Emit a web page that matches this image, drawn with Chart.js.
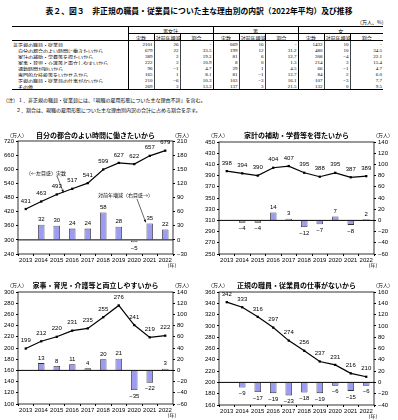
<!DOCTYPE html>
<html lang="ja">
<head>
<meta charset="utf-8">
<script src="https://cdn.jsdelivr.net/npm/chart.js@4.4.0/dist/chart.umd.min.js"></script>
<style>
body { margin:0; width:398px; height:420px; background:#fff; position:relative; overflow:hidden; font-family:"Noto Sans CJK JP", sans-serif; color:#000; }
#title { position:absolute; top:5px; left:0; width:398px; text-align:center; font-size:7.8px; font-weight:bold; line-height:12px; }
#unit { position:absolute; top:19px; left:357px; font-size:5px; line-height:6px; }
#tbl { position:absolute; left:12px; top:26px; width:371px; border-collapse:collapse; table-layout:fixed; font-size:5px; font-family:"Noto Sans CJK JP", sans-serif; }
#tbl th, #tbl td { padding:0 1px; line-height:5px; height:6px; white-space:nowrap; overflow:hidden; }
#tbl tr.h1 th { border-top:1.5px solid #000; height:6px; }
#tbl tr:last-child td { border-bottom:1.5px solid #000; }
#tbl th { font-weight:normal; text-align:center; border-left:0.5px solid #000; border-bottom:0.5px solid #000; }
#tbl td { text-align:right; border-left:0.5px solid #444; font-family:"Liberation Serif", serif; }
#tbl td.lab, #tbl th.lab { text-align:left; border-left:none; font-family:"Noto Sans CJK JP", sans-serif; border-right:1px solid #000; }
#tbl td.ind { padding-left:6px; }
#tbl th.grp, #tbl .gs { border-left:1px solid #000; }
.note { position:absolute; font-size:5px; line-height:6px; white-space:nowrap; }
canvas { position:absolute; }
</style>
</head>
<body>
<div id="title">表２、図３　非正規の職員・従業員についた主な理由別の内訳（2022年平均）及び推移</div>
<div id="unit">（万人、%）</div>
<table id="tbl"></table>
<div class="note" style="left:3px;top:97px">（注）１．非正規の職員・従業員には、「現職の雇用形態についた主な理由不詳」を含む。</div>
<div class="note" style="left:16px;top:107px">２．割合は、現職の雇用形態についた主な理由別内訳の合計に占める割合を示す。</div>
<canvas id="c1" width="198" height="145" style="left:0;top:125px"></canvas>
<canvas id="c2" width="200" height="145" style="left:198px;top:125px"></canvas>
<canvas id="c3" width="198" height="145" style="left:0;top:275px"></canvas>
<canvas id="c4" width="200" height="145" style="left:198px;top:275px"></canvas>
<script>
// table data (2022)
const tableLabels = ['非正規の職員・従業員', '自分の都合のよい時間に働きたいから', '家計の補助・学費等を得たいから', '家事・育児・介護等と両立しやすいから', '通勤時間が短いから', '専門的な技能等をいかせるから', '正規の職員・従業員の仕事がないから', 'その他'];
const totalCount = [2101, 679, 389, 222, 96, 165, 210, 269];
const totalChange = [26, 22, 2, 3, -1, 1, -6, 3];
const totalShare = [null, 33.5, 19.2, 10.9, 4.7, 8.1, 10.3, 13.3];
const maleCount = [669, 199, 81, 8, 29, 81, 103, 137];
const maleChange = [16, 12, 6, 0, 1, -1, -3, 3];
const maleShare = [null, 31.2, 12.7, 1.3, 4.5, 12.7, 16.1, 21.5];
const femaleCount = [1432, 480, 308, 214, 66, 84, 107, 132];
const femaleChange = [10, 10, -4, 3, -1, 2, -3, 0];
const femaleShare = [null, 34.5, 22.1, 15.4, 4.7, 6.0, 7.7, 9.5];

// chart data
const years = ['2013', '2014', '2015', '2016', '2017', '2018', '2019', '2020', '2021', '2022'];
const jikanLevel = [431, 463, 493, 517, 541, 599, 627, 622, 657, 679];
const jikanChange = [null, 32, 30, 24, 24, 58, 28, -5, 35, 22];
const kakeiLevel = [398, 394, 390, 404, 407, 395, 388, 395, 387, 389];
const kakeiChange = [null, -4, -4, 14, 3, -12, -7, 7, -8, 2];
const kajiLevel = [199, 212, 220, 231, 235, 255, 276, 241, 219, 222];
const kajiChange = [null, 13, 8, 11, 4, 20, 21, -35, -22, 3];
const seikiLevel = [342, 333, 316, 297, 274, 256, 237, 231, 216, 210];
const seikiChange = [null, -9, -17, -19, -23, -18, -19, -6, -15, -6];

function fmt(v) {
  return v < 0 ? '−' + Math.abs(v) : String(v);
}

// build table
const groups = [['男女計', totalCount, totalChange, totalShare], ['男', maleCount, maleChange, maleShare], ['女', femaleCount, femaleChange, femaleShare]];
let html = '<colgroup><col style="width:116px">' + groups.map(() => '<col style="width:26px"><col style="width:26px"><col style="width:33px">').join('') + '</colgroup>';
html += '<tr class="h1"><th rowspan="2" class="lab"></th>' + groups.map(g => '<th colspan="3" class="grp">' + g[0] + '</th>').join('') + '</tr>';
html += '<tr class="h2">' + groups.map(() => '<th class="gs">実数</th><th>対前年増減</th><th>割合</th>').join('') + '</tr>';
tableLabels.forEach((lab, i) => {
  html += '<tr><td class="lab' + (i ? ' ind' : '') + '">' + lab + '</td>' + groups.map(g =>
    '<td class="gs">' + g[1][i] + '</td><td>' + fmt(g[2][i]) + '</td><td>' + (g[3][i] === null ? '-' : g[3][i].toFixed(1)) + '</td>').join('') + '</tr>';
});
document.getElementById('tbl').innerHTML = html;

Chart.defaults.font.family = '"Liberation Sans", "Noto Sans CJK JP", sans-serif';
Chart.defaults.color = '#000';
const tickFont = { size: 6 };

function arrow(ctx, x1, y1, x2, y2) {
  ctx.beginPath();
  ctx.moveTo(x1, y1);
  ctx.lineTo(x2, y2);
  ctx.stroke();
  const a = Math.atan2(y2 - y1, x2 - x1);
  ctx.beginPath();
  ctx.moveTo(x2, y2);
  ctx.lineTo(x2 - 3 * Math.cos(a - 0.4), y2 - 3 * Math.sin(a - 0.4));
  ctx.lineTo(x2 - 3 * Math.cos(a + 0.4), y2 - 3 * Math.sin(a + 0.4));
  ctx.closePath();
  ctx.fill();
}

const framePlugin = {
  id: 'frame',
  afterDatasetsDraw(chart, args, opts) {
    const { ctx, chartArea: a } = chart;
    ctx.save();
    ctx.strokeStyle = '#000';
    ctx.lineWidth = 0.8;
    ctx.strokeRect(a.left, a.top, a.right - a.left, a.bottom - a.top);
    const z = chart.scales.y1.getPixelForValue(0);
    ctx.lineWidth = 1;
    ctx.beginPath();
    ctx.moveTo(a.left, z);
    ctx.lineTo(a.right, z);
    ctx.stroke();
    ctx.fillStyle = '#000';
    ctx.textBaseline = 'middle';
    ctx.textAlign = 'center';
    ctx.font = 'bold 7px "Noto Sans CJK JP"';
    ctx.fillText(opts.title, (a.left + a.right) / 2, 10);
    ctx.font = '5px "Noto Sans CJK JP"';
    ctx.fillText('（万人）', a.left - 1, 10);
    ctx.fillText('（万人）', a.right + 9, 10);
    ctx.fillText('（年）', a.right - 1, a.bottom + 11);
    if (opts.extra) opts.extra(chart, ctx);
    ctx.restore();
  }
};

const labelPlugin = {
  id: 'valueLabels',
  afterDatasetsDraw(chart) {
    const ctx = chart.ctx;
    ctx.save();
    ctx.font = '6px "Liberation Sans"';
    ctx.fillStyle = '#000';
    ctx.textAlign = 'center';
    ctx.textBaseline = 'middle';
    chart.data.datasets.forEach((ds, i) => {
      const meta = chart.getDatasetMeta(i);
      meta.data.forEach((el, j) => {
        const v = ds.data[j];
        if (v === null || v === undefined) return;
        let y;
        if (ds.type === 'line') y = el.y - 8;
        else y = v >= 0 ? el.y - 5 : el.y + 6;
        ctx.fillText(fmt(v), el.x, y);
      });
    });
    ctx.restore();
  }
};

function yScale(pos, min, max, step, width) {
  return {
    position: pos, min: min, max: max,
    ticks: { stepSize: step, font: tickFont, padding: 2, autoSkip: false, callback: v => fmt(v) },
    grid: { drawOnChartArea: false, drawTicks: true, tickLength: 2, color: '#000' },
    border: { display: false },
    afterFit(s) { s.width = width; }
  };
}

function drawChart(id, cfg) {
  return new Chart(document.getElementById(id), {
    type: 'bar',
    data: {
      labels: years,
      datasets: [
        { type: 'line', data: cfg.level, yAxisID: 'y', borderColor: '#000', borderWidth: 1.2, pointStyle: 'rect', pointRadius: 1.6, pointBackgroundColor: '#000', pointBorderWidth: 0, tension: 0 },
        { type: 'bar', data: cfg.change, yAxisID: 'y1', backgroundColor: '#9c9cf2', borderColor: '#333', borderWidth: 0.8, barPercentage: 0.42, categoryPercentage: 1 }
      ]
    },
    options: {
      responsive: false, animation: false, devicePixelRatio: 1,
      layout: { padding: { top: cfg.top, left: 0, right: 0, bottom: 0 } },
      plugins: { legend: { display: false }, tooltip: { enabled: false }, frame: { title: cfg.title, extra: cfg.extra } },
      scales: {
        x: {
          ticks: { font: tickFont, padding: 1, maxRotation: 0, autoSkip: false },
          grid: { drawOnChartArea: false, tickLength: 2, color: '#000' },
          border: { display: false },
          afterFit(s) { s.height = cfg.xh; }
        },
        y: yScale('left', cfg.left[0], cfg.left[1], cfg.left[2], cfg.lw),
        y1: yScale('right', cfg.right[0], cfg.right[1], cfg.right[2], cfg.rw)
      }
    },
    plugins: [framePlugin, labelPlugin]
  });
}

drawChart('c1', {
  title: '自分の都合のよい時間に働きたいから', level: jikanLevel, change: jikanChange,
  left: [240, 720, 60], right: [-30, 210, 30], lw: 18, rw: 25, top: 16, xh: 16,
  extra(chart, ctx) {
    const x = chart.scales.x, y = chart.scales.y, y1 = chart.scales.y1;
    ctx.font = '5px "Noto Sans CJK JP"';
    ctx.textAlign = 'left';
    ctx.fillText('（←左目盛）実数', 26, 48);
    ctx.fillText('対前年増減（右目盛→）', 98, 70);
    ctx.lineWidth = 0.6;
    const tx = (x.getPixelForValue(2) + x.getPixelForValue(3)) / 2;
    const ty = (y.getPixelForValue(jikanLevel[2]) + y.getPixelForValue(jikanLevel[3])) / 2;
    arrow(ctx, 57, 51, tx - 1, ty + 1);
    arrow(ctx, 137, 74, x.getPixelForValue(8) - 4, y1.getPixelForValue(jikanChange[8]) - 1);
  }
});
drawChart('c2', {
  title: '家計の補助・学費等を得たいから', level: kakeiLevel, change: kakeiChange,
  left: [250, 450, 20], right: [-60, 140, 20], lw: 21, rw: 24, top: 17, xh: 16
});
drawChart('c3', {
  title: '家事・育児・介護等と両立しやすいから', level: kajiLevel, change: kajiChange,
  left: [100, 300, 20], right: [-60, 140, 20], lw: 18, rw: 25, top: 17, xh: 16
});
drawChart('c4', {
  title: '正規の職員・従業員の仕事がないから', level: seikiLevel, change: seikiChange,
  left: [160, 360, 20], right: [-40, 160, 20], lw: 21, rw: 24, top: 17, xh: 15
});
</script>
</body>
</html>
